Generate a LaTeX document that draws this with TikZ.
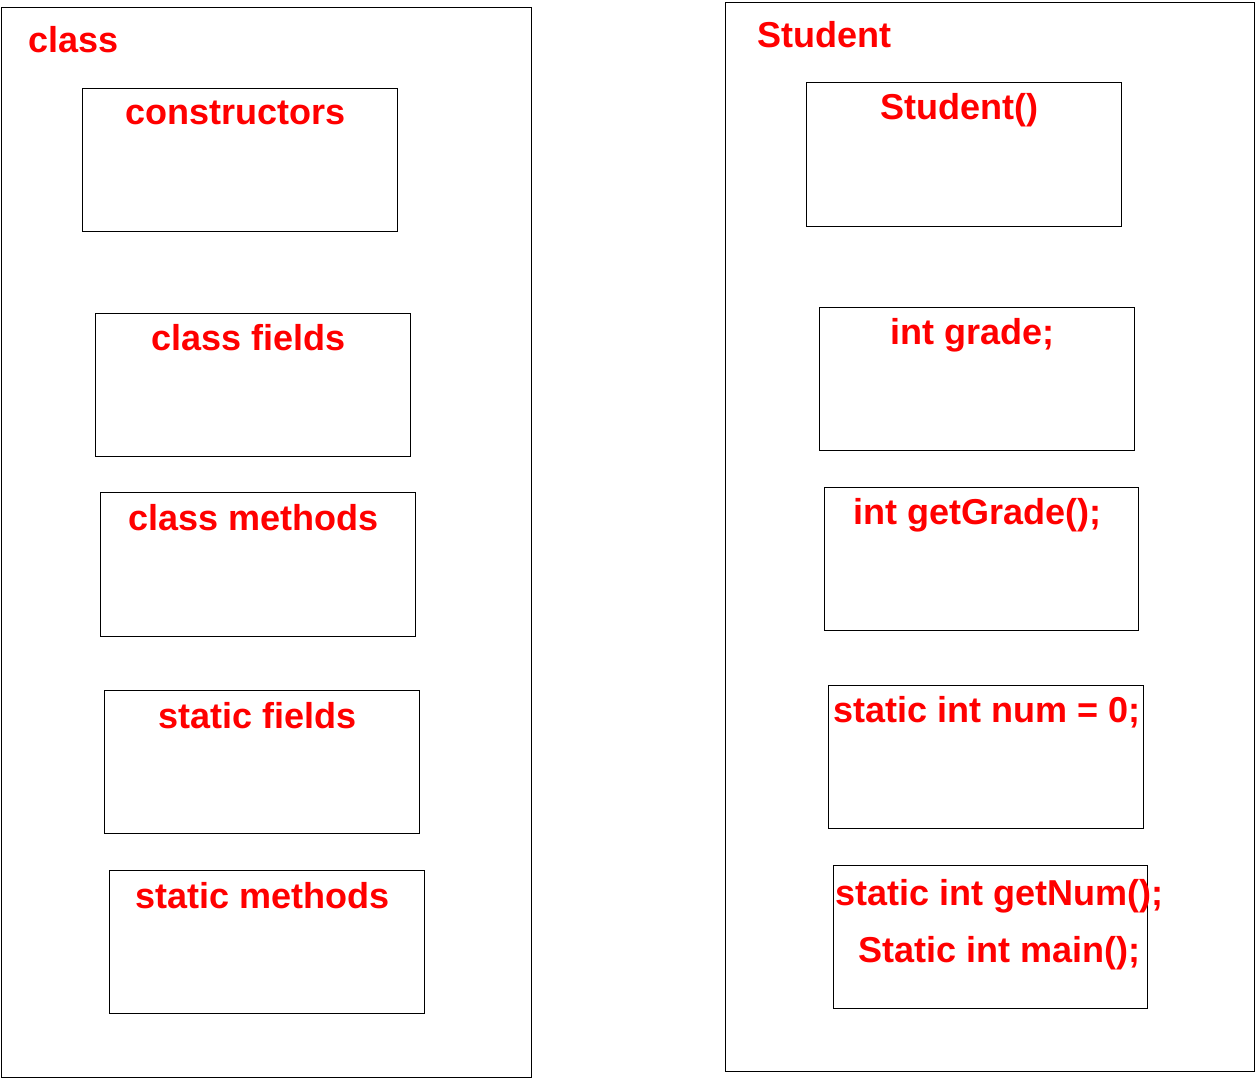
\documentclass[tikz,border=0pt]{standalone}
\usepackage{fontspec}
\setmainfont{Liberation Sans}
\begin{document}
\begin{tikzpicture}[x=0.02cm,y=-0.02cm,
  box/.style={draw=black,line width=0.45pt},
  lbl/.style={anchor=base west,inner sep=0pt,text=red,font=\fontsize{20.5}{24}\selectfont\bfseries}]
\useasboundingbox (0,0) rectangle (1257,1078);
% left
\draw[box] (1,7) rectangle (531,1077);
\draw[box] (82,88) rectangle (397,231);
\draw[box] (95,313) rectangle (410,456);
\draw[box] (100,492) rectangle (415,636);
\draw[box] (104,690) rectangle (419,833);
\draw[box] (109,870) rectangle (424,1013);
\node[lbl] (t1) at (28,53) {class};
\node[lbl] (t2) at (125,125) {constructors};
\node[lbl] (t3) at (151,350) {class fields};
\node[lbl] (t4) at (128,530) {class methods};
\node[lbl] (t5) at (158,728) {static fields};
\node[lbl] (t6) at (135,908) {static methods};
% right
\draw[box] (725,2) rectangle (1254,1071);
\draw[box] (806,82) rectangle (1121,226);
\draw[box] (819,307) rectangle (1134,450);
\draw[box] (824,487) rectangle (1138,630);
\draw[box] (828,685) rectangle (1143,828);
\draw[box] (833,865) rectangle (1147,1008);
\node[lbl] (s1) at (757,48) {Student};
\node[lbl] (s2) at (880,119) {Student()};
\node[lbl] (s3) at (890,344) {int grade;};
\node[lbl] (s4) at (853,524) {int getGrade();};
\node[lbl] (s5) at (833,722) {static int num = 0;};
\node[lbl] (s6) at (835,905) {static int getNum();};
\node[lbl] (s7) at (858,962) {Static int main();};
\end{tikzpicture}
\end{document}
